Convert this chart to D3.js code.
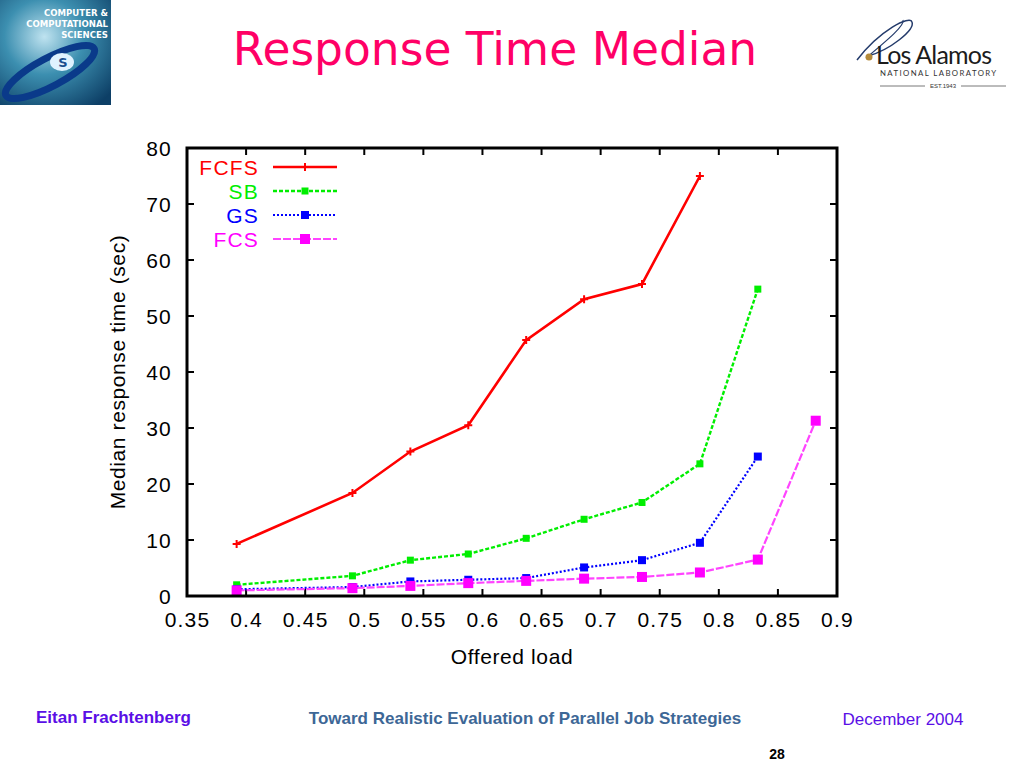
<!DOCTYPE html>
<html>
<head>
<meta charset="utf-8">
<script src="https://cdn.jsdelivr.net/npm/d3@7"></script>
<style>
  body { margin: 0; background: #fff; }
  svg { display: block; }
</style>
</head>
<body>
<div id="chart"></div>
<script>
// offered load values (x) and median response times (y) per scheduler
var loads = [0.392, 0.49, 0.539, 0.588, 0.637, 0.686, 0.735, 0.784, 0.833, 0.882];
var fcfs = [9.3, 18.4, 25.8, 30.5, 45.7, 53.0, 55.7, 75.0];
var sb = [2.0, 3.6, 6.4, 7.5, 10.3, 13.7, 16.7, 23.6, 54.8];
var gs = [1.2, 1.6, 2.6, 2.9, 3.2, 5.1, 6.4, 9.5, 24.9];
var fcs = [1.0, 1.4, 1.8, 2.3, 2.7, 3.1, 3.4, 4.2, 6.5, 31.3];
var xTicks = [0.35, 0.4, 0.45, 0.5, 0.55, 0.6, 0.65, 0.7, 0.75, 0.8, 0.85, 0.9];
var yTicks = [0, 10, 20, 30, 40, 50, 60, 70, 80];

function init() {
    var w = 1024, h = 768;
    var left = 187, right = 837, top = 148, bottom = 596;

    var svg = d3.select("#chart").append("svg")
        .attr("width", w)
        .attr("height", h);

    // ---- slide decorations ----
    var defs = svg.append("defs");
    var grad = defs.append("radialGradient").attr("id", "ccs").attr("cx", "40%").attr("cy", "35%").attr("r", "80%");
    grad.append("stop").attr("offset", "0%").attr("stop-color", "#bfe3f0");
    grad.append("stop").attr("offset", "45%").attr("stop-color", "#3c8fb0");
    grad.append("stop").attr("offset", "100%").attr("stop-color", "#0d3f66");

    var logo = svg.append("g");
    logo.append("rect").attr("x", 0).attr("y", 0).attr("width", 111).attr("height", 105).attr("fill", "url(#ccs)");
    logo.append("ellipse").attr("cx", 50).attr("cy", 72).attr("rx", 50).attr("ry", 14)
        .attr("transform", "rotate(-28 50 72)").attr("fill", "none").attr("stroke", "#0a3a8a").attr("stroke-width", 7);
    logo.append("ellipse").attr("cx", 62).attr("cy", 62).attr("rx", 12).attr("ry", 9).attr("fill", "#dff2ff");
    logo.append("text").attr("x", 63).attr("y", 67).attr("text-anchor", "middle")
        .attr("font-family", "DejaVu Sans").attr("font-weight", "bold").attr("font-size", 13).attr("fill", "#1a4f8f").text("S");
    ["COMPUTER &", "COMPUTATIONAL", "SCIENCES"].forEach(function (t, i) {
        logo.append("text").attr("x", 108).attr("y", 16 + i * 11).attr("text-anchor", "end")
            .attr("font-family", "DejaVu Sans Condensed").attr("font-weight", "bold").attr("font-size", 9.5)
            .attr("fill", "#fff").text(t);
    });

    var lanl = svg.append("g");
    lanl.append("path").attr("d", "M857,60 C880,30 910,15 912,22 C915,30 890,50 868,56")
        .attr("fill", "none").attr("stroke", "#243b6b").attr("stroke-width", 1.5);
    lanl.append("path").attr("d", "M866,58 C890,38 905,25 903,20")
        .attr("fill", "none").attr("stroke", "#243b6b").attr("stroke-width", 1.2);
    lanl.append("circle").attr("cx", 869).attr("cy", 57).attr("r", 3.5).attr("fill", "#b48a3a");
    lanl.append("text").attr("x", 876).attr("y", 64).attr("font-family", "Lato, Liberation Sans")
        .attr("font-size", 25).attr("fill", "#1c1c1c").attr("letter-spacing", -0.8).text("Los Alamos");
    lanl.append("text").attr("x", 880).attr("y", 76).attr("font-family", "Lato, Liberation Sans")
        .attr("font-size", 7.8).attr("letter-spacing", 1.4).attr("fill", "#333").text("NATIONAL LABORATORY");
    lanl.append("text").attr("x", 943).attr("y", 88).attr("text-anchor", "middle").attr("font-family", "Liberation Sans")
        .attr("font-size", 6).attr("fill", "#333").text("EST.1943");
    lanl.append("line").attr("x1", 880).attr("x2", 925).attr("y1", 86).attr("y2", 86).attr("stroke", "#555").attr("stroke-width", 0.8);
    lanl.append("line").attr("x1", 961).attr("x2", 1006).attr("y1", 86).attr("y2", 86).attr("stroke", "#555").attr("stroke-width", 0.8);

    svg.append("text")
        .attr("x", 495).attr("y", 65)
        .attr("text-anchor", "middle")
        .attr("font-family", "DejaVu Sans")
        .attr("font-size", 45.5)
        .attr("fill", "#ff0066")
        .text("Response Time Median");

    // ---- scales ----
    var xScale = d3.scaleLinear().domain([0.35, 0.9]).range([left, right]);
    var yScale = d3.scaleLinear().domain([0, 80]).range([bottom, top]);

    var chart = svg.append("g");

    // axes: labels outside, ticks inside (gnuplot style, mirrored)
    var xAxis = d3.axisBottom(xScale).tickValues(xTicks).tickSize(0).tickPadding(16)
        .tickFormat(function (d) { return String(d); });
    var yAxis = d3.axisLeft(yScale).tickValues(yTicks).tickSize(0).tickPadding(15);

    var gx = chart.append("g").attr("transform", "translate(0," + bottom + ")").call(xAxis);
    var gy = chart.append("g").attr("transform", "translate(" + left + ",0)").call(yAxis);
    [gx, gy].forEach(function (g) {
        g.select(".domain").remove();
        g.selectAll("text")
            .attr("font-family", "Liberation Sans, Arial")
            .attr("font-size", 21)
            .attr("letter-spacing", 1.2)
            .attr("fill", "#000");
    });
    gy.selectAll("text").attr("dy", "0.36em");
    gx.selectAll("text").attr("dy", "0.71em");

    var tickLen = 7;
    chart.append("g").selectAll("line.xt")
        .data(xTicks.slice(1, -1))
        .enter().append("line")
        .attr("x1", function (d) { return xScale(d); })
        .attr("x2", function (d) { return xScale(d); })
        .attr("y1", bottom).attr("y2", bottom - tickLen)
        .attr("stroke", "#000").attr("stroke-width", 2);
    chart.append("g").selectAll("line.xt2")
        .data(xTicks.slice(1, -1))
        .enter().append("line")
        .attr("x1", function (d) { return xScale(d); })
        .attr("x2", function (d) { return xScale(d); })
        .attr("y1", top).attr("y2", top + tickLen)
        .attr("stroke", "#000").attr("stroke-width", 2);
    chart.append("g").selectAll("line.yt")
        .data(yTicks.slice(1, -1))
        .enter().append("line")
        .attr("x1", left).attr("x2", left + tickLen)
        .attr("y1", function (d) { return yScale(d); })
        .attr("y2", function (d) { return yScale(d); })
        .attr("stroke", "#000").attr("stroke-width", 2);
    chart.append("g").selectAll("line.yt2")
        .data(yTicks.slice(1, -1))
        .enter().append("line")
        .attr("x1", right).attr("x2", right - tickLen)
        .attr("y1", function (d) { return yScale(d); })
        .attr("y2", function (d) { return yScale(d); })
        .attr("stroke", "#000").attr("stroke-width", 2);

    // series
    var series = [
        { name: "FCFS", values: fcfs, color: "#ff0000", dash: null, marker: "plus", size: 4, width: 2.6 },
        { name: "SB", values: sb, color: "#00ee00", dash: "4,2", marker: "square", size: 7, width: 2.4 },
        { name: "GS", values: gs, color: "#0000ff", dash: "2,2", marker: "square", size: 8, width: 2.2 },
        { name: "FCS", values: fcs, color: "#ff44ff", dash: "8,2", marker: "square", size: 10, width: 2.2 }
    ];

    var line = d3.line()
        .x(function (d) { return xScale(d[0]); })
        .y(function (d) { return yScale(d[1]); });

    function drawMarker(g, s, cx, cy) {
        if (s.marker === "plus") {
            g.append("path")
                .attr("d", "M" + (cx - s.size) + "," + cy + "h" + 2 * s.size + "M" + cx + "," + (cy - s.size) + "v" + 2 * s.size)
                .attr("stroke", s.color).attr("stroke-width", 2);
        } else {
            g.append("rect")
                .attr("x", cx - s.size / 2).attr("y", cy - s.size / 2)
                .attr("width", s.size).attr("height", s.size)
                .attr("fill", s.color === "#ff44ff" ? "#ff00ff" : s.color);
        }
    }

    series.forEach(function (s) {
        var pts = s.values.map(function (v, i) { return [loads[i], v]; });
        var g = chart.append("g");
        g.append("path")
            .attr("d", line(pts))
            .attr("fill", "none")
            .attr("stroke", s.color)
            .attr("stroke-width", s.width)
            .attr("stroke-dasharray", s.dash);
        pts.forEach(function (p) { drawMarker(g, s, xScale(p[0]), yScale(p[1])); });
    });

    // legend
    var legend = chart.append("g");
    series.forEach(function (s, i) {
        var ly = 167 + i * 24;
        legend.append("text")
            .attr("x", 259).attr("y", ly).attr("dy", "0.36em")
            .attr("text-anchor", "end")
            .attr("font-family", "Liberation Sans, Arial")
            .attr("font-size", 21)
            .attr("letter-spacing", 1.2)
            .attr("fill", s.color === "#ff44ff" ? "#ff00ff" : s.color)
            .text(s.name);
        legend.append("line")
            .attr("x1", 273).attr("x2", 337).attr("y1", ly).attr("y2", ly)
            .attr("stroke", s.color).attr("stroke-width", s.width)
            .attr("stroke-dasharray", s.dash);
        drawMarker(legend, s, 305, ly);
    });

    // frame
    chart.append("rect")
        .attr("x", left).attr("y", top)
        .attr("width", right - left).attr("height", bottom - top)
        .attr("fill", "none").attr("stroke", "#000").attr("stroke-width", 3);

    // axis titles
    chart.append("text")
        .attr("x", 512).attr("y", 664)
        .attr("text-anchor", "middle")
        .attr("font-family", "Liberation Sans, Arial")
        .attr("font-size", 21)
        .attr("letter-spacing", 0.6)
        .text("Offered load");
    chart.append("text")
        .attr("transform", "translate(125,372) rotate(-90)")
        .attr("text-anchor", "middle")
        .attr("font-family", "Liberation Sans, Arial")
        .attr("font-size", 21)
        .attr("letter-spacing", 0.6)
        .text("Median response time (sec)");

    // footer
    svg.append("text").attr("x", 36).attr("y", 723)
        .attr("font-family", "Liberation Sans").attr("font-weight", "bold").attr("font-size", 17)
        .attr("fill", "#5a0fe6").text("Eitan Frachtenberg");
    svg.append("text").attr("x", 525).attr("y", 724).attr("text-anchor", "middle")
        .attr("font-family", "Liberation Sans").attr("font-weight", "bold").attr("font-size", 17)
        .attr("fill", "#3d6796").text("Toward Realistic Evaluation of Parallel Job Strategies");
    svg.append("text").attr("x", 903).attr("y", 725).attr("text-anchor", "middle")
        .attr("font-family", "Liberation Sans").attr("font-size", 17)
        .attr("fill", "#5a0fe6").text("December 2004");
    svg.append("text").attr("x", 777).attr("y", 759).attr("text-anchor", "middle")
        .attr("font-family", "Liberation Sans").attr("font-weight", "bold").attr("font-size", 14)
        .attr("fill", "#000").text("28");
}

window.onload = init;
</script>
</body>
</html>
